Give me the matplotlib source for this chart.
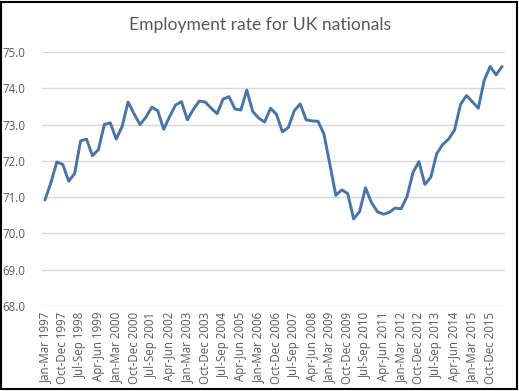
import matplotlib
matplotlib.use("Agg")
import matplotlib.pyplot as plt
from matplotlib.patches import Rectangle

title = "Employment rate for UK nationals"

# Quarterly employment rate (%), Jan-Mar 1997 .. Apr-Jun 2016
rate = [
    70.92, 71.40, 71.97, 71.90, 71.44, 71.65, 72.55, 72.60, 72.14, 72.31,
    73.00, 73.05, 72.60, 72.95, 73.62, 73.30, 73.00, 73.20, 73.48, 73.38,
    72.87, 73.22, 73.54, 73.63, 73.13, 73.42, 73.65, 73.62, 73.45, 73.30,
    73.70, 73.77, 73.43, 73.40, 73.95, 73.36, 73.18, 73.07, 73.45, 73.28,
    72.80, 72.92, 73.38, 73.57, 73.13, 73.10, 73.09, 72.74, 71.90, 71.05,
    71.20, 71.10, 70.40, 70.60, 71.26, 70.85, 70.60, 70.53, 70.58, 70.70,
    70.68, 71.02, 71.68, 71.98, 71.35, 71.55, 72.20, 72.45, 72.60, 72.85,
    73.55, 73.80, 73.63, 73.45, 74.22, 74.60, 74.37, 74.60,
]

tick_labels = [
    "Jan-Mar 1997", "Oct-Dec 1997", "Jul-Sep 1998", "Apr-Jun 1999",
    "Jan-Mar 2000", "Oct-Dec 2000", "Jul-Sep 2001", "Apr-Jun 2002",
    "Jan-Mar 2003", "Oct-Dec 2003", "Jul-Sep 2004", "Apr-Jun 2005",
    "Jan-Mar 2006", "Oct-Dec 2006", "Jul-Sep 2007", "Apr-Jun 2008",
    "Jan-Mar 2009", "Oct-Dec 2009", "Jul-Sep 2010", "Apr-Jun 2011",
    "Jan-Mar 2012", "Oct-Dec 2012", "Jul-Sep 2013", "Apr-Jun 2014",
    "Jan-Mar 2015", "Oct-Dec 2015",
]
tick_step = 3

y_ticks = [68.0, 69.0, 70.0, 71.0, 72.0, 73.0, 74.0, 75.0]

W, H = 519, 391
fig = plt.figure(figsize=(W / 100, H / 100), dpi=100)
fig.patch.set_facecolor("white")

ax = fig.add_axes([42 / W, (H - 306) / H, (505 - 42) / W, (306 - 52) / H])
x = list(range(len(rate)))
ax.plot(x, rate, color="#4A74A8", linewidth=2.1, solid_joinstyle="round",
        solid_capstyle="round", zorder=3)

ax.set_xlim(-0.5, len(rate) - 0.5)
ax.set_ylim(y_ticks[0], y_ticks[-1])
ax.set_yticks(y_ticks)
ax.set_yticklabels([f"{v:.1f}" for v in y_ticks])
ax.set_xticks(list(range(0, len(tick_labels) * tick_step, tick_step)))
ax.set_xticklabels(tick_labels, rotation=90)

for s in ax.spines.values():
    s.set_visible(False)
ax.grid(axis="y", color="#D9D9D9", linewidth=1.0, zorder=0)
ax.tick_params(axis="both", length=0, labelsize=8.3, labelcolor="#595959",
               pad=4)
ax.tick_params(axis="y", pad=12)
for lab in ax.get_xticklabels() + ax.get_yticklabels():
    lab.set_family("Open Sans")

fig.text(260 / W, (H - 25) / H, title, ha="center", va="center",
         fontsize=12.6, color="#595959", family="Lato")

# outer chart frame
fig.add_artist(Rectangle((1 / W, 2.5 / H), (517 - 1) / W, (H - 4) / H,
                         transform=fig.transFigure, fill=False,
                         edgecolor="black", linewidth=1.5))

fig.savefig("out.png", dpi=100, facecolor="white")
